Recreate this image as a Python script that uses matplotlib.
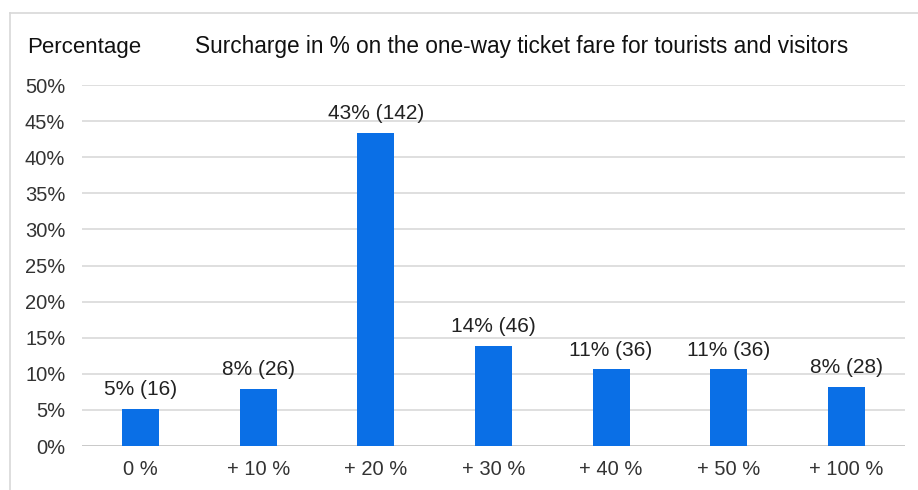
import matplotlib
matplotlib.use("Agg")
import matplotlib.pyplot as plt
from matplotlib.lines import Line2D

categories = ["0 %", "+ 10 %", "+ 20 %", "+ 30 %", "+ 40 %", "+ 50 %", "+ 100 %"]
percent = [5.1, 7.9, 43.4, 13.9, 10.6, 10.6, 8.2]
counts = [16, 26, 142, 46, 36, 36, 28]
pct_labels = ["5%", "8%", "43%", "14%", "11%", "11%", "8%"]
yticks = [0, 5, 10, 15, 20, 25, 30, 35, 40, 45, 50]

plt.rcParams['font.family'] = ['Liberation Sans', 'DejaVu Sans']

W, H = 918, 490
fig = plt.figure(figsize=(W/100, H/100), dpi=100)
ax = fig.add_axes([82/W, 1-446/H, (905-82)/W, (446-85)/H])

x = list(range(len(categories)))
ax.bar(x, percent, width=0.315, color='#0a6fe6', zorder=3)
for xi, p, l, c in zip(x, percent, pct_labels, counts):
    ax.annotate(f"{l} ({c})", (xi, p), xytext=(0, 7), textcoords='offset points',
                ha='center', va='bottom', fontsize=15, color='#222222')

ax.set_xlim(-0.5, len(categories)-0.5)
ax.set_ylim(0, 50)
ax.set_yticks(yticks)
ax.set_yticklabels([f"{t}%" for t in yticks])
ax.set_xticks(x)
ax.set_xticklabels(categories)
ax.grid(axis='y', color='#d9d9d9', linewidth=1.2, zorder=0)
ax.set_axisbelow(True)
for s in ax.spines.values():
    s.set_visible(False)
ax.tick_params(axis='both', length=0, labelsize=14.5, colors='#333333')
ax.tick_params(axis='y', pad=12)
ax.tick_params(axis='x', pad=10)
ax.axhline(0, color='#c8c8c8', linewidth=1.3, zorder=2)

fig.text(27/W, 1-47/H, "Percentage", fontsize=16, ha='left', va='center', color='#111111')
fig.text(522/W, 1-47/H, "Surcharge in % on the one-way ticket fare for tourists and visitors",
         fontsize=16.3, ha='center', va='center', color='#111111')

# outer frame lines
fig.add_artist(Line2D([10/W, 1], [1-13/H, 1-13/H], transform=fig.transFigure, color='#d8d8d8', linewidth=1.2))
fig.add_artist(Line2D([10/W, 10/W], [0, 1-13/H], transform=fig.transFigure, color='#d8d8d8', linewidth=1.2))

fig.savefig("out.png", dpi=100)
